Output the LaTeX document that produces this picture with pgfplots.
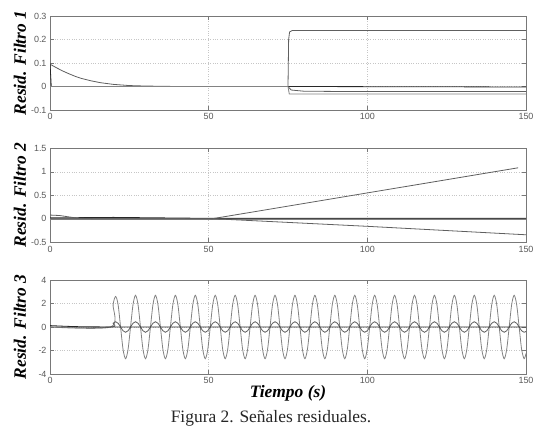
\documentclass[border=0pt]{standalone}
\usepackage{pgfplots}
\pgfplotsset{compat=1.18}
\usepackage{pgfplotstable}
\usepackage{fontspec}
\setmainfont{Liberation Serif}
\newfontfamily\ticksfont{Liberation Sans}

\definecolor{axgray}{RGB}{120,120,120}
\definecolor{lndark}{RGB}{40,40,40}
\definecolor{lnmid}{RGB}{95,95,95}
\definecolor{lnlight}{RGB}{130,130,130}

% filter 3: t, large wave, small wave (one cycle per line)
\pgfplotstableread[row sep=\\]{
t big small\\
0 0 0\\
19.10 0 0\\ 19.885 1.91 0.32\\ 20.67 2.60 0.45\\ 21.455 1.91 0.32\\ 22.24 0 0\\ 23.025 -1.91 -0.32\\ 23.81 -2.70 -0.45\\ 24.595 -1.91 -0.32\\
25.38 0 0\\ 26.165 1.91 0.32\\ 26.95 2.70 0.45\\ 27.735 1.91 0.32\\ 28.52 0 0\\ 29.305 -1.91 -0.32\\ 30.09 -2.70 -0.45\\ 30.875 -1.91 -0.32\\
31.66 0 0\\ 32.445 1.91 0.32\\ 33.23 2.70 0.45\\ 34.015 1.91 0.32\\ 34.80 0 0\\ 35.585 -1.91 -0.32\\ 36.37 -2.70 -0.45\\ 37.155 -1.91 -0.32\\
37.94 0 0\\ 38.725 1.91 0.32\\ 39.51 2.70 0.45\\ 40.295 1.91 0.32\\ 41.08 0 0\\ 41.865 -1.91 -0.32\\ 42.65 -2.70 -0.45\\ 43.435 -1.91 -0.32\\
44.22 0 0\\ 45.005 1.91 0.32\\ 45.79 2.70 0.45\\ 46.575 1.91 0.32\\ 47.36 0 0\\ 48.145 -1.91 -0.32\\ 48.93 -2.70 -0.45\\ 49.715 -1.91 -0.32\\
50.50 0 0\\ 51.285 1.91 0.32\\ 52.07 2.70 0.45\\ 52.855 1.91 0.32\\ 53.64 0 0\\ 54.425 -1.91 -0.32\\ 55.21 -2.70 -0.45\\ 55.995 -1.91 -0.32\\
56.78 0 0\\ 57.565 1.91 0.32\\ 58.35 2.70 0.45\\ 59.135 1.91 0.32\\ 59.92 0 0\\ 60.705 -1.91 -0.32\\ 61.49 -2.70 -0.45\\ 62.275 -1.91 -0.32\\
63.06 0 0\\ 63.845 1.91 0.32\\ 64.63 2.70 0.45\\ 65.415 1.91 0.32\\ 66.20 0 0\\ 66.985 -1.91 -0.32\\ 67.77 -2.70 -0.45\\ 68.555 -1.91 -0.32\\
69.34 0 0\\ 70.125 1.91 0.32\\ 70.91 2.70 0.45\\ 71.695 1.91 0.32\\ 72.48 0 0\\ 73.265 -1.91 -0.32\\ 74.05 -2.70 -0.45\\ 74.835 -1.91 -0.32\\
75.62 0 0\\ 76.405 1.91 0.32\\ 77.19 2.70 0.45\\ 77.975 1.91 0.32\\ 78.76 0 0\\ 79.545 -1.91 -0.32\\ 80.33 -2.70 -0.45\\ 81.115 -1.91 -0.32\\
81.90 0 0\\ 82.685 1.91 0.32\\ 83.47 2.70 0.45\\ 84.255 1.91 0.32\\ 85.04 0 0\\ 85.825 -1.91 -0.32\\ 86.61 -2.70 -0.45\\ 87.395 -1.91 -0.32\\
88.18 0 0\\ 88.965 1.91 0.32\\ 89.75 2.70 0.45\\ 90.535 1.91 0.32\\ 91.32 0 0\\ 92.105 -1.91 -0.32\\ 92.89 -2.70 -0.45\\ 93.675 -1.91 -0.32\\
94.46 0 0\\ 95.245 1.91 0.32\\ 96.03 2.70 0.45\\ 96.815 1.91 0.32\\ 97.60 0 0\\ 98.385 -1.91 -0.32\\ 99.17 -2.70 -0.45\\ 99.955 -1.91 -0.32\\
100.74 0 0\\ 101.525 1.91 0.32\\ 102.31 2.70 0.45\\ 103.095 1.91 0.32\\ 103.88 0 0\\ 104.665 -1.91 -0.32\\ 105.45 -2.70 -0.45\\ 106.235 -1.91 -0.32\\
107.02 0 0\\ 107.805 1.91 0.32\\ 108.59 2.70 0.45\\ 109.375 1.91 0.32\\ 110.16 0 0\\ 110.945 -1.91 -0.32\\ 111.73 -2.70 -0.45\\ 112.515 -1.91 -0.32\\
113.30 0 0\\ 114.085 1.91 0.32\\ 114.87 2.70 0.45\\ 115.655 1.91 0.32\\ 116.44 0 0\\ 117.225 -1.91 -0.32\\ 118.01 -2.70 -0.45\\ 118.795 -1.91 -0.32\\
119.58 0 0\\ 120.365 1.91 0.32\\ 121.15 2.70 0.45\\ 121.935 1.91 0.32\\ 122.72 0 0\\ 123.505 -1.91 -0.32\\ 124.29 -2.70 -0.45\\ 125.075 -1.91 -0.32\\
125.86 0 0\\ 126.645 1.91 0.32\\ 127.43 2.70 0.45\\ 128.215 1.91 0.32\\ 129.00 0 0\\ 129.785 -1.91 -0.32\\ 130.57 -2.70 -0.45\\ 131.355 -1.91 -0.32\\
132.14 0 0\\ 132.925 1.91 0.32\\ 133.71 2.70 0.45\\ 134.495 1.91 0.32\\ 135.28 0 0\\ 136.065 -1.91 -0.32\\ 136.85 -2.70 -0.45\\ 137.635 -1.91 -0.32\\
138.42 0 0\\ 139.205 1.91 0.32\\ 139.99 2.70 0.45\\ 140.775 1.91 0.32\\ 141.56 0 0\\ 142.345 -1.91 -0.32\\ 143.13 -2.70 -0.45\\ 143.915 -1.91 -0.32\\
144.70 0 0\\ 145.485 1.91 0.32\\ 146.27 2.70 0.45\\ 147.055 1.91 0.32\\ 147.84 0 0\\ 148.625 -1.91 -0.32\\ 149.41 -2.70 -0.45\\ 150.0 -2.25 -0.37\\
}\filtroC

\pgfplotsset{
  resid/.style={
    scale only axis, width=476bp, height=94bp,
    anchor=north west,
    xmin=0, xmax=150, xtick={0,50,100,150},
    grid=major, grid style={dotted, gray!45, line width=0.5bp},
    axis line style={axgray, line width=0.8bp},
    tick style={axgray, line width=0.6bp},
    tick align=inside, major tick length=4bp,
    tick label style={font=\ticksfont\fontsize{9}{9}\selectfont, text=black!65},
    /pgf/number format/assume math mode=true,
    /pgf/number format/fixed,
    ylabel style={font=\fontsize{17.5}{17.5}\selectfont\bfseries\itshape,
      at={(axis description cs:-0.063,0.5)}, anchor=center},
    every axis plot/.append style={line width=0.8bp},
  }
}

\begin{document}
\begin{tikzpicture}
\useasboundingbox (0bp,0bp) rectangle (543bp,-431bp);

% filtro 1
\begin{axis}[resid, at={(50bp,-16bp)}, ymin=-0.1, ymax=0.3,
    ytick={-0.1,0,0.1,0.2,0.3}, yticklabels={-0.1,0,0.1,0.2,0.3},
    ylabel={Resid. Filtro 1}]
  \addplot[lnmid] coordinates {(0,0.095) (2,0.08) (4,0.066) (6,0.054) (8,0.043) (10,0.034)
    (13,0.024) (16,0.016) (20,0.009) (25,0.004) (30,0.002) (40,0) (75,0) (76,-0.015)
    (80,-0.02) (90,-0.021) (150,-0.021)};
  \addplot[lndark] coordinates {(0,0.1) (0.4,0) (75,0) (150,-0.002)};
  \addplot[lnmid] coordinates {(0,0) (75,0) (75.2,0.2) (75.5,0.232) (76.3,0.238) (150,0.238)};
  \addplot[lnlight] coordinates {(0,0) (75,0) (75.4,-0.032) (150,-0.032)};
\end{axis}

% filtro 2
\begin{axis}[resid, at={(50bp,-148.3bp)}, ymin=-0.5, ymax=1.5,
    ytick={-0.5,0,0.5,1,1.5}, yticklabels={-0.5,0,0.5,1,1.5},
    ylabel={Resid. Filtro 2}]
  \addplot[lnlight, line width=1.6bp] coordinates {(0,0) (150,0)};
  \addplot[lndark] coordinates {(0,0.02) (10,0.025) (20,0.03) (35,0.02) (50,0.01) (60,0.01) (150,0.01)};
  \addplot[lnmid] coordinates {(0,0.08) (3,0.07) (5,0.05) (8,0.02) (10,0.01) (15,0) (51,0) (147.5,1.085)};
  \addplot[lnmid] coordinates {(0,0) (50,0) (55,-0.01) (100,-0.16) (150,-0.34)};
\end{axis}

% filtro 3
\begin{axis}[resid, at={(50bp,-280bp)}, ymin=-4, ymax=4,
    ytick={-4,-2,0,2,4}, yticklabels={-4,-2,0,2,4},
    ylabel={Resid. Filtro 3},
    xlabel={Tiempo (s)},
    xlabel style={font=\fontsize{17.5}{17.5}\selectfont\bfseries\itshape,
      at={(axis description cs:0.5,0)}, anchor=north, yshift=-8bp}]
  \addplot[lnlight, smooth] table[x=t, y=big] {\filtroC};
  \addplot[lnmid, smooth] table[x=t, y=small] {\filtroC};
  \addplot[lndark] coordinates {(0,0.12) (5,0.06) (10,0.02) (20,0) (150,0)};
\end{axis}

\node[font=\fontsize{17.5}{17.5}\selectfont, text=black!85] at (271bp,-418bp) {Figura 2. Señales residuales.};
\end{tikzpicture}
\end{document}
